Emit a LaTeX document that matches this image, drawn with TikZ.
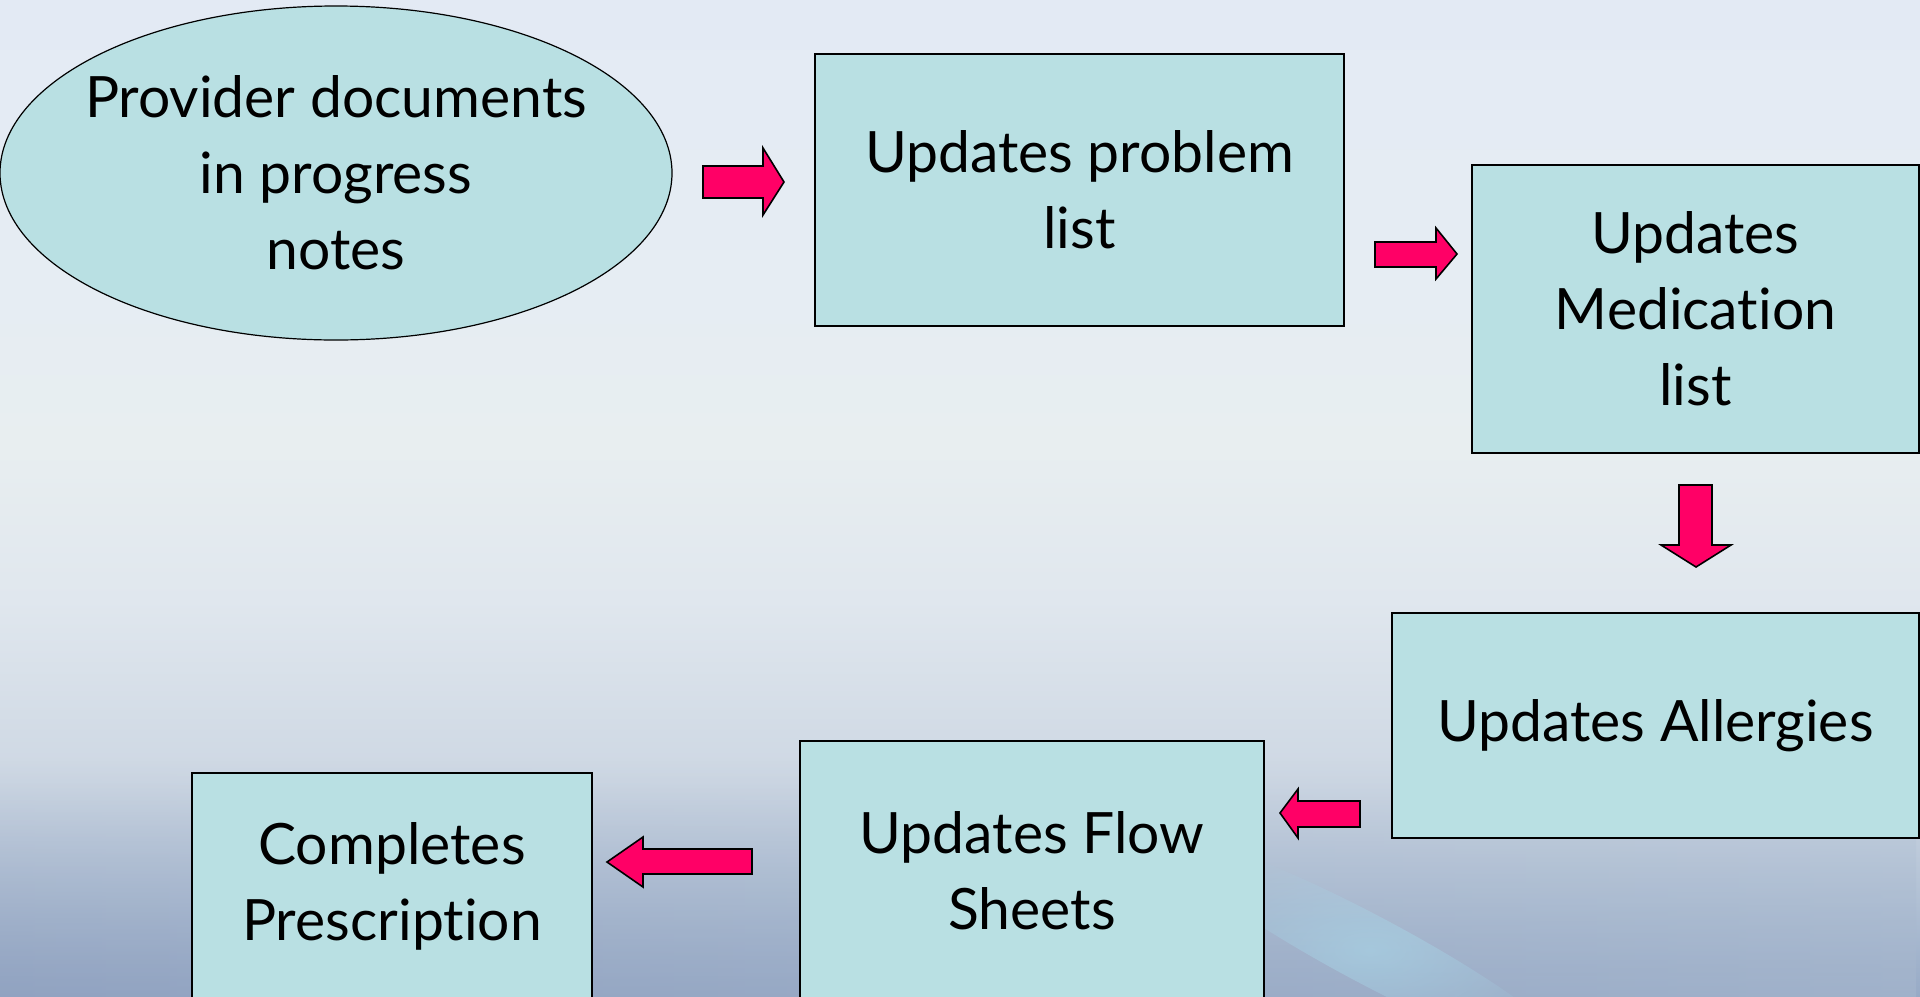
\documentclass[tikz,border=0pt]{standalone}
\usepackage{fontspec}
\setmainfont{Lato}[Ligatures=NoCommon]
\usetikzlibrary{fadings,shapes.geometric}

\definecolor{bgA}{HTML}{E3EAF4}
\definecolor{bgB}{HTML}{E6EDF3}
\definecolor{bgC}{HTML}{E8EEF0}
\definecolor{bgD}{HTML}{E0E7EE}
\definecolor{bgE}{HTML}{CDD7E3}
\definecolor{bgF}{HTML}{B0C0D4}
\definecolor{bgG}{HTML}{97AAC6}
\definecolor{boxfill}{HTML}{B9E0E3}
\definecolor{arrowfill}{HTML}{FF0066}
\definecolor{swoosh}{HTML}{A8D6E8}
\definecolor{lowleft}{HTML}{8C9DBD}
\definecolor{lowright}{HTML}{A8B8CE}

% background: soft vertical gradient (stops laid out between 25bp and 75bp)
\pgfdeclareverticalshading{slidebg}{100bp}{%
  color(0bp)=(bgG); color(25bp)=(bgG); color(29.8bp)=(bgF);
  color(35.8bp)=(bgE); color(44.9bp)=(bgD); color(52.4bp)=(bgC);
  color(60bp)=(bgB); color(75bp)=(bgA); color(100bp)=(bgA)}
\tikzfading[name=softedge, inner color=transparent!0, outer color=transparent!100]

\tikzset{
  steptext/.style={align=center, inner sep=0pt, font=\fontsize{28.5}{38}\selectfont},
  stepbox/.style={steptext, draw=black, line width=1pt, fill=boxfill, rectangle},
  startoval/.style={draw=black, line width=0.6pt, fill=boxfill, ellipse, inner sep=0pt},
  blockarrow/.style={draw=black, line width=0.8pt, fill=arrowfill, line join=miter}
}

\begin{document}
\begin{tikzpicture}[x=0.5pt, y=-0.5pt]
  \useasboundingbox (0,0) rectangle (1920,996);
  \clip (0,0) rectangle (1920,996);

  % backdrop
  \shade[shading=slidebg] (0,0) rectangle (1920,996);
  \shade[left color=lowleft, right color=lowright, path fading=north, opacity=0.55]
    (0,760) rectangle (1920,996);
  \fill[swoosh, opacity=0.6, path fading=softedge, rotate around={-28:(1370,950)}]
    (1370,950) ellipse [x radius=230, y radius=34];

  % process steps
  \node[startoval, minimum width=336pt, minimum height=167pt] (notes) at (336,173) {};
  \node[steptext] (notestext) at (notes.center) {Provider documents\\in progress\\notes};
  \node[stepbox, minimum width=264.5pt, minimum height=136pt] (problem) at (1079.5,190)
    {Updates problem\\list};
  \node[stepbox, minimum width=223.5pt, minimum height=144pt] (meds) at (1695.5,309)
    {Updates\\Medication\\list};
  \node[stepbox, minimum width=263.5pt, minimum height=112.5pt] (allergy) at (1655.5,725.5)
    {Updates Allergies};
  \node[stepbox, minimum width=232pt, minimum height=129.5pt] (flow) at (1032,870.5)
    {Updates Flow\\Sheets};
  \node[stepbox, minimum width=200pt, minimum height=113.5pt] (rx) at (392,886.5)
    {Completes\\Prescription};

  % block arrows between the steps
  \draw[blockarrow] (703,166) -- (763,166) -- (763,148) -- (784,182) -- (763,215)
    -- (763,198) -- (703,198) -- cycle;
  \draw[blockarrow] (1375,242) -- (1436,242) -- (1436,228) -- (1457,254) -- (1436,279)
    -- (1436,267) -- (1375,267) -- cycle;
  \draw[blockarrow] (1679,485) -- (1712,485) -- (1712,545) -- (1731,545) -- (1696,567)
    -- (1661,545) -- (1679,545) -- cycle;
  \draw[blockarrow] (1360,801) -- (1298,801) -- (1298,789) -- (1280,813) -- (1298,838)
    -- (1298,827) -- (1360,827) -- cycle;
  \draw[blockarrow] (752,849) -- (643,849) -- (643,837) -- (607,862) -- (643,887)
    -- (643,874) -- (752,874) -- cycle;
\end{tikzpicture}
\end{document}
